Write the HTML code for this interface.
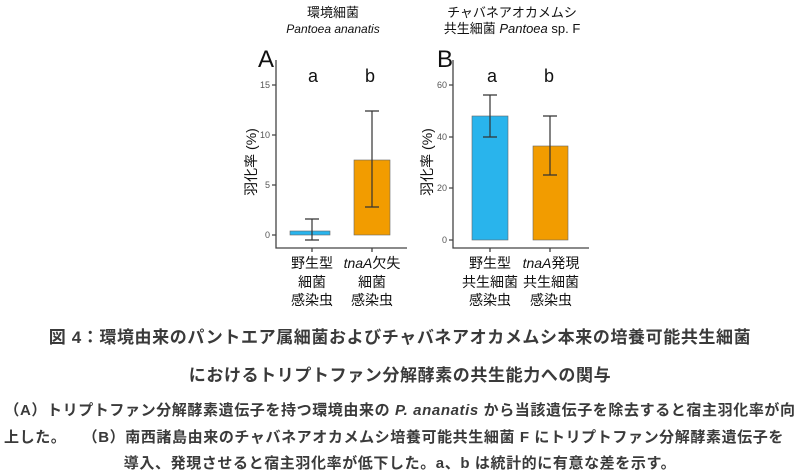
<!DOCTYPE html><html><head><meta charset="utf-8"><style>
body{margin:0;width:800px;height:471px;background:#fff;overflow:hidden;font-family:"Liberation Sans","Noto Sans CJK JP",sans-serif;}
.c{position:absolute;left:0;width:800px;text-align:center;color:#3a3a3a;font-weight:bold;white-space:nowrap}
</style></head><body>
<svg width="800" height="310" style="position:absolute;left:0;top:0" font-family="Liberation Sans, Noto Sans CJK JP, sans-serif">
<g text-anchor="middle" fill="#111">
<text x="333" y="17" font-size="13">環境細菌</text>
<text x="333" y="33" font-size="12" font-style="italic">Pantoea ananatis</text>
<text x="512" y="17" font-size="13">チャバネアオカメムシ</text>
<text x="512" y="33" font-size="13">共生細菌 <tspan font-style="italic">Pantoea</tspan> sp. F</text>
</g>
<text x="258" y="67" font-size="24" fill="#111">A</text>
<text x="437" y="67" font-size="24" fill="#111">B</text>
<g stroke="#444" stroke-width="1.3" fill="none">
<path d="M276 60V248H407M453 60V248H589"/>
<path d="M272 85H276M272 135H276M272 185H276M272 235H276M312 248V252M372 248V252"/>
<path d="M449 85H453M449 137H453M449 188H453M449 240H453M490 248V252M550 248V252"/>
</g>
<g font-size="9" fill="#555" text-anchor="end">
<text x="270" y="88">15</text><text x="270" y="138">10</text><text x="270" y="188">5</text><text x="270" y="238">0</text>
<text x="447" y="88">60</text><text x="447" y="140">40</text><text x="447" y="191">20</text><text x="447" y="243">0</text>
</g>
<text transform="translate(256,162) rotate(-90)" font-size="14" text-anchor="middle" fill="#111">羽化率 (%)</text>
<text transform="translate(432,162) rotate(-90)" font-size="14" text-anchor="middle" fill="#111">羽化率 (%)</text>
<rect x="290" y="231" width="40" height="4" fill="#29b4ec" stroke="#666" stroke-width=".6"/>
<rect x="354" y="160" width="36" height="75" fill="#f29c00" stroke="#666" stroke-width=".6"/>
<rect x="472" y="116" width="36" height="124" fill="#29b4ec" stroke="#666" stroke-width=".6"/>
<rect x="533" y="146" width="35" height="94" fill="#f29c00" stroke="#666" stroke-width=".6"/>
<g stroke="#333" stroke-width="1.2">
<path d="M312 219V240M305 219H319M305 240H319"/>
<path d="M372 111V207M365 111H379M365 207H379"/>
<path d="M490 95V137M483 95H497M483 137H497"/>
<path d="M550 116V175M543 116H557M543 175H557"/>
</g>
<g font-size="18" text-anchor="middle" fill="#111">
<text x="313" y="82">a</text><text x="370" y="82">b</text>
<text x="492" y="82">a</text><text x="549" y="82">b</text>
</g>
<g font-size="14" text-anchor="middle" fill="#111">
<text x="312" y="268">野生型</text><text x="312" y="287">細菌</text><text x="312" y="305">感染虫</text>
<text x="372" y="268"><tspan font-style="italic">tnaA</tspan>欠失</text><text x="372" y="287">細菌</text><text x="372" y="305">感染虫</text>
<text x="490" y="268">野生型</text><text x="490" y="287">共生細菌</text><text x="490" y="305">感染虫</text>
<text x="551" y="268"><tspan font-style="italic">tnaA</tspan>発現</text><text x="551" y="287">共生細菌</text><text x="551" y="305">感染虫</text>
</g>
</svg>
<div class="c" style="top:323px;font-size:17px;letter-spacing:0.6px">図 4：環境由来のパントエア属細菌およびチャバネアオカメムシ本来の培養可能共生細菌</div>
<div class="c" style="top:361px;font-size:17px;letter-spacing:0.6px">におけるトリプトファン分解酵素の共生能力への関与</div>
<div class="c" style="top:399px;font-size:15px;letter-spacing:0.6px">（A）トリプトファン分解酵素遺伝子を持つ環境由来の <i>P. ananatis</i> から当該遺伝子を除去すると宿主羽化率が向</div>
<div class="c" style="top:426px;font-size:15px;text-align:left;left:4px;letter-spacing:0.6px">上した。　　（B）南西諸島由来のチャバネアオカメムシ培養可能共生細菌 F にトリプトファン分解酵素遺伝子を</div>
<div class="c" style="top:452px;font-size:15px;letter-spacing:0.6px">導入、発現させると宿主羽化率が低下した。a、b は統計的に有意な差を示す。</div>
</body></html>
